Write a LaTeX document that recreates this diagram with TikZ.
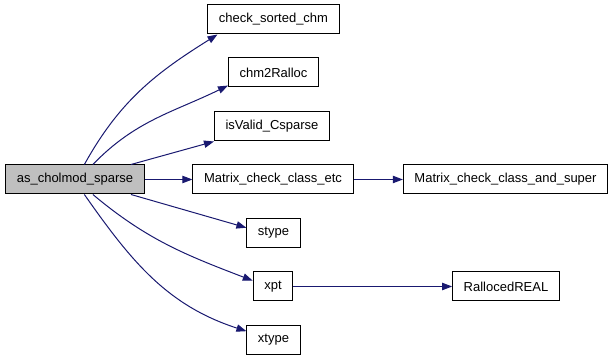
\documentclass[tikz,border=0pt]{standalone}
\usepackage{fontspec}
\setmainfont{Liberation Sans}
\usetikzlibrary{arrows.meta}
\definecolor{callblue}{HTML}{191970}
\definecolor{rootgray}{HTML}{BFBFBF}
\tikzstyle{func}=[draw, rectangle, fill=white, line width=0.75pt, inner xsep=8.3pt, inner ysep=0pt, minimum height=21.75pt, font=\fontsize{9.75}{11}\selectfont]
\tikzstyle{root func}=[func, fill=rootgray]
\tikzstyle{call}=[draw=callblue, line width=0.75pt, -{Triangle[length=7.5pt,width=5.5pt]}]

\begin{document}
\begin{tikzpicture}[x=0.75pt, y=0.75pt]
	\useasboundingbox (0,0) rectangle (613,360);

	% First we draw the functions
	\node[root func] (main) at (75,180.5) {as\_cholmod\_sparse};

	\foreach \pos/\label/\name in {
		{(273.5,340.5)/csc/check\_sorted\_chm},
		{(273.5,287.5)/c2r/chm2Ralloc},
		{(272,233.5)/ivc/isValid\_Csparse},
		{(273,180.5)/mcce/Matrix\_check\_class\_etc},
		{(505.5,180.5)/mccs/Matrix\_check\_class\_and\_super},
		{(273.5,127)/stype/stype},
		{(273,73.5)/xpt/xpt},
		{(506,73.5)/rreal/RallocedREAL},
		{(273.5,20)/xtype/xtype}}
	\node[func] (\label) at \pos {\name};

	% Connect functions with calls
	\foreach \source/\dest/\out/\in in {
		main.58/csc.195/61/212,
		main.40/c2r.196/46/206,
		main.-40/xpt.164/-40/159,
		main.-58/xtype.162/-55/162}
	\path[call] (\source) to[out=\out, in=\in] (\dest);

	\foreach \source/\dest in {
		main.15/ivc.south west,
		main.east/mcce.west,
		main.-15/stype.169,
		mcce.east/mccs.west,
		xpt.east/rreal.west}
	\path[call] (\source) -- (\dest);
\end{tikzpicture}
\end{document}
